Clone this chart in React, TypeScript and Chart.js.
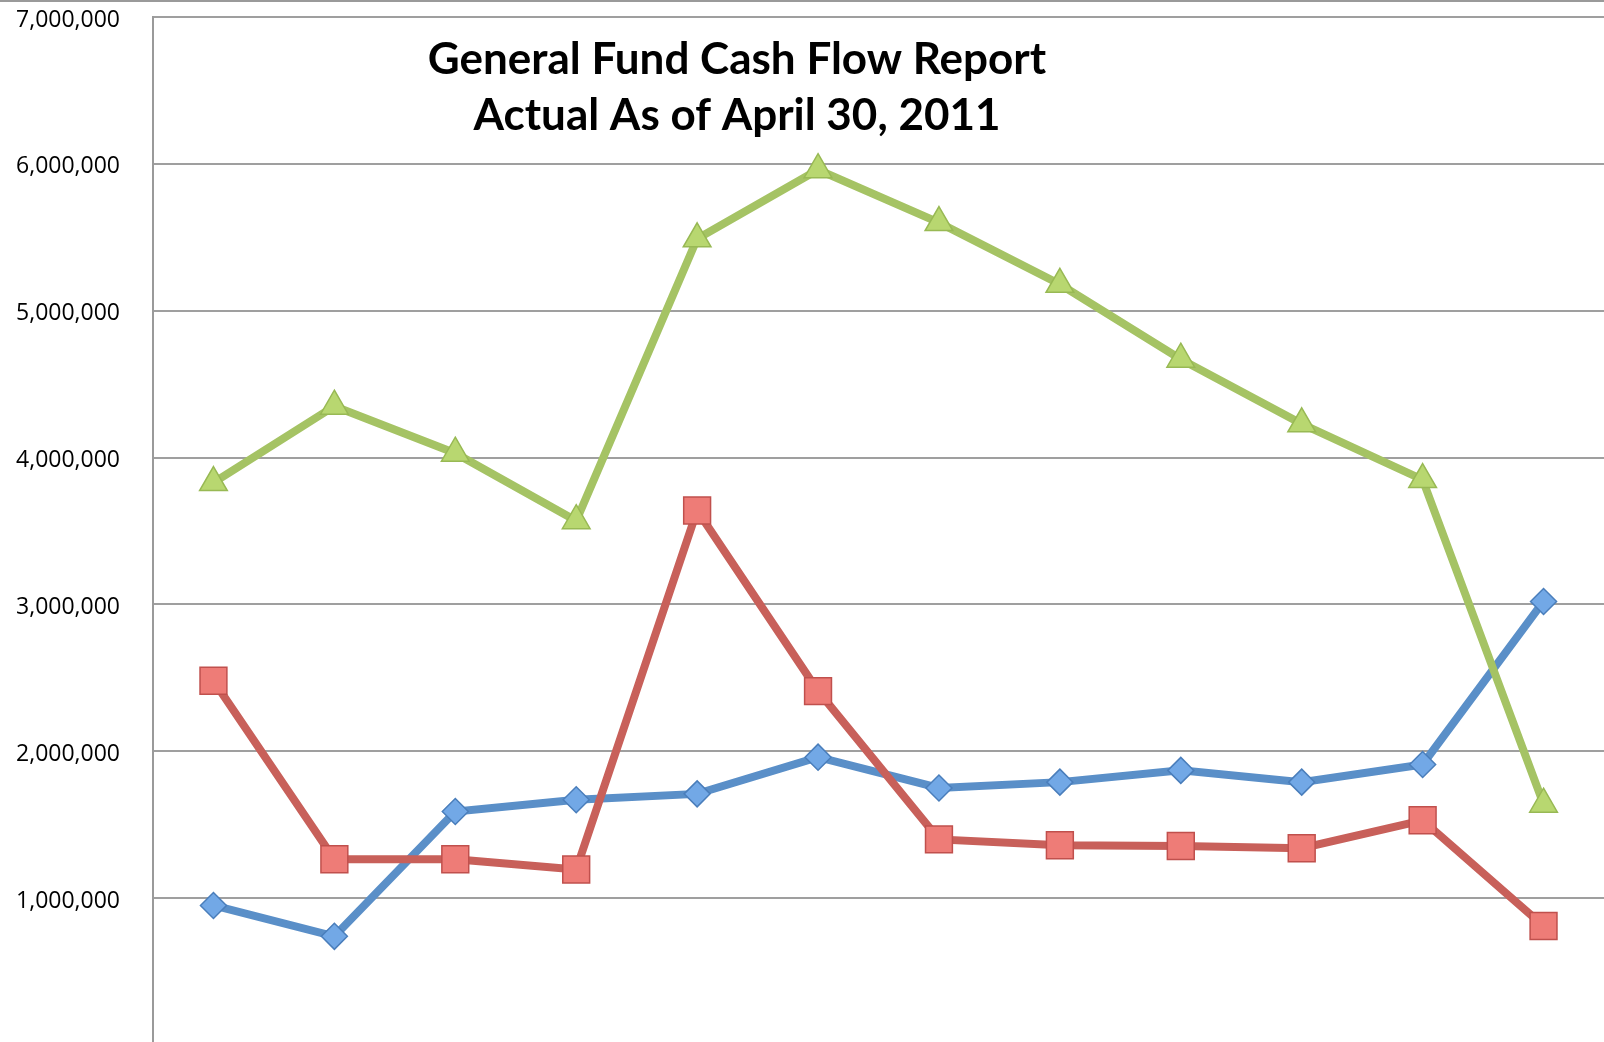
import React, { useEffect, useRef } from "react";
import { Chart, registerables } from "chart.js";

Chart.register(...registerables);

const categories = ["Jul", "Aug", "Sep", "Oct", "Nov", "Dec", "Jan", "Feb", "Mar", "Apr", "May", "Jun"];
const seriesNames = ["Series 1", "Series 2", "Series 3"];
const blueValues = [950000, 740000, 1590000, 1670000, 1710000, 1960000, 1750000, 1790000, 1870000, 1790000, 1910000, 3020000];
const redValues = [2480000, 1265000, 1265000, 1195000, 3640000, 2410000, 1400000, 1360000, 1355000, 1340000, 1530000, 810000];
const greenValues = [3830000, 4350000, 4030000, 3570000, 5490000, 5960000, 5600000, 5180000, 4670000, 4230000, 3850000, 1640000];
const titleLines = ["General Fund Cash Flow Report", "Actual As of April 30, 2011"];
const yMin = 0;
const yMax = 7000000;
const yStep = 1000000;

export default function App() {
  const ref = useRef<HTMLCanvasElement | null>(null);

  useEffect(() => {
    document.body.style.margin = "0";
    document.body.style.overflow = "hidden";
    const canvas = ref.current;
    if (!canvas) return;

    const overlay = {
      id: "overlay",
      afterDraw(chart: any) {
        const ctx = chart.ctx;
        ctx.save();
        ctx.strokeStyle = "#9a9a9a";
        ctx.lineWidth = 2;
        ctx.beginPath();
        ctx.moveTo(0, 1);
        ctx.lineTo(chart.width, 1);
        ctx.stroke();
        ctx.fillStyle = "#000";
        ctx.textAlign = "center";
        ctx.textBaseline = "middle";
        ctx.font = "bold 44px Lato";
        ctx.fillText(titleLines[0], 737, 60);
        ctx.fillText(titleLines[1], 737, 116);
        ctx.restore();
      },
    };

    const chart = new Chart(canvas, {
      type: "line",
      data: {
        labels: categories,
        datasets: [
          {
            label: seriesNames[0],
            data: blueValues,
            borderColor: "#5A8FC8",
            borderWidth: 8,
            pointStyle: "rectRot",
            pointRadius: 13,
            pointBackgroundColor: "#72A8E6",
            pointBorderColor: "#4A7EBB",
            pointBorderWidth: 1.5,
            order: 2,
          },
          {
            label: seriesNames[1],
            data: redValues,
            borderColor: "#C8605A",
            borderWidth: 8,
            pointStyle: "rect",
            pointRadius: 19,
            pointBackgroundColor: "#EE7C77",
            pointBorderColor: "#C0504D",
            pointBorderWidth: 1.5,
            order: 1,
          },
          {
            label: seriesNames[2],
            data: greenValues,
            borderColor: "#A5C364",
            borderWidth: 8,
            pointStyle: "triangle",
            pointRadius: 16,
            pointBackgroundColor: "#B8D770",
            pointBorderColor: "#98B954",
            pointBorderWidth: 1.5,
            order: 0,
          },
        ],
      },
      options: {
        animation: false,
        responsive: false,
        maintainAspectRatio: false,
        layout: { autoPadding: false, padding: { top: 17, right: 0, bottom: 15, left: 0 } },
        plugins: {
          legend: { display: false },
          title: { display: false },
          tooltip: { enabled: false },
        },
        scales: {
          x: {
            display: false,
            offset: true,
          },
          y: {
            min: yMin,
            max: yMax,
            afterFit(scale: any) {
              scale.width = 153;
              scale.paddingTop = 0;
              scale.paddingBottom = 0;
            },
            ticks: {
              stepSize: yStep,
              padding: 33,
              labelOffset: 3,
              color: "#000",
              font: { family: "Open Sans", size: 23 },
              callback: (v: any) => (v === 0 ? "" : Number(v).toLocaleString("en-US")),
            },
            grid: {
              color: "#9f9f9f",
              lineWidth: 2,
              drawTicks: false,
            },
            border: { display: true, color: "#9a9a9a", width: 2 },
          },
        },
      },
      plugins: [overlay],
    });
    return () => chart.destroy();
  }, []);

  return (
    <div style={{ position: "absolute", left: 0, top: 0, width: 1604, height: 1060 }}>
      <canvas ref={ref} width={1604} height={1060} style={{ width: 1604, height: 1060, display: "block" }} />
    </div>
  );
}
